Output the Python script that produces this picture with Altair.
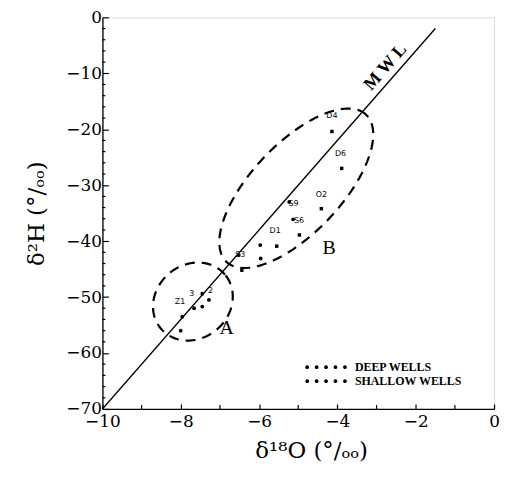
import altair as alt
import numpy as np
import pandas as pd

# ---- data ----
deep_x = [-4.14, -3.89, -4.41, -5.55, -4.97, -6.44]
deep_y = [-20.4, -27.0, -34.2, -40.9, -38.9, -45.2]

shallow_x = [-5.23, -5.13, -5.97, -5.96, -6.52, -7.45, -7.28, -7.45, -7.66, -7.96, -8.00]
shallow_y = [-33.0, -36.1, -40.7, -43.1, -42.5, -49.4, -50.5, -51.7, -52.0, -53.5, -56.0]

label_text = ["D4", "D6", "O2", "S9", "S6", "D1", "S3", "2", "3", "Z1"]
label_x = [-4.14, -3.92, -4.41, -5.12, -4.98, -5.59, -6.48, -7.24, -7.72, -8.02]
label_y = [-17.6, -24.5, -31.7, -33.3, -36.4, -38.2, -42.5, -48.9, -49.4, -50.9]

mwl_x = [-10.0, -1.5]
mwl_y = [-70.0, -2.0]

group_text = ["A", "B"]
group_x = [-6.83, -4.21]
group_y = [-55.6, -41.2]

# ellipses: center (data units), semi-axes (fraction of plot side), angle (deg)
ell_name = ["A", "B"]
ell_cx = [-7.69, -5.05]
ell_cy = [-50.8, -30.55]
ell_a = [0.107, 0.259]
ell_b = [0.094, 0.114]
ell_ang = [40.0, 46.5]

x_major = [-10, -8, -6, -4, -2, 0]
x_minor = [-9, -7, -5, -3, -1]
y_major = [-70, -60, -50, -40, -30, -20, -10, 0]
y_minor = [v for v in range(-68, 0, 2) if v % 10 != 0]

# ---- build tables ----
deep = pd.DataFrame({"x": deep_x, "y": deep_y, "type": "DEEP WELLS"})
shallow = pd.DataFrame({"x": shallow_x, "y": shallow_y, "type": "SHALLOW WELLS"})
labels = pd.DataFrame({"t": label_text, "x": label_x, "y": label_y})
mwl = pd.DataFrame({"x": mwl_x, "y": mwl_y})
groups = pd.DataFrame({"t": group_text, "x": group_x, "y": group_y})
xmin_df = pd.DataFrame({"x": x_minor})
ymin_df = pd.DataFrame({"y": y_minor})

rows = []
tt = np.linspace(0, 2 * np.pi, 121)
for n, cx, cy, a, b, ang in zip(ell_name, ell_cx, ell_cy, ell_a, ell_b, ell_ang):
    th = np.radians(ang)
    u = a * np.cos(tt) * np.cos(th) - b * np.sin(tt) * np.sin(th)
    v = a * np.cos(tt) * np.sin(th) + b * np.sin(tt) * np.cos(th)
    for i, (uu, vv) in enumerate(zip(u, v)):
        rows.append({"e": n, "i": i, "x": cx + uu * 10, "y": cy + vv * 70})
ell = pd.DataFrame(rows)

SERIF = "DejaVu Serif"
LSERIF = "Liberation Serif"

xscale = alt.Scale(domain=[-10, 0], nice=False, zero=False)
yscale = alt.Scale(domain=[-70, 0], nice=False, zero=False)

xaxis = alt.Axis(
    values=x_major,
    title="δ¹⁸O  (°/ₒₒ)",
    grid=False,
    tickSize={"expr": "-5"},
    labelPadding=10,
    labelFont=SERIF, labelFontSize=17, labelColor="black",
    titleFont=SERIF, titleFontSize=23, titleFontWeight="normal", titleColor="black",
    titlePadding=10, titleX=210,
    domainColor="black", tickColor="black", domainWidth=1.3, tickWidth=1.2,
    labelOverlap=False, labelFlush=False,
)
yaxis = alt.Axis(
    values=y_major,
    title="δ²H  (°/ₒₒ)",
    grid=False,
    tickSize={"expr": "-6"},
    labelPadding=7,
    labelFont=SERIF, labelFontSize=17, labelColor="black",
    titleFont=SERIF, titleFontSize=23, titleFontWeight="normal", titleColor="black",
    titleX=-54, titleY=197,
    domainColor="black", tickColor="black", domainWidth=1.3, tickWidth=1.2,
    labelOverlap=False, labelFlush=False,
)

# legend symbol: a row of five dots (path drawn beyond the unit box on purpose)
five_dots = " ".join(
    f"M {cx - 0.38},0 a 0.38,0.38 0 1,0 0.76,0 a 0.38,0.38 0 1,0 -0.76,0 Z"
    for cx in [-3.8, -1.9, 0.0, 1.9, 3.8]
)

color_enc = alt.Color(
    "type:N",
    scale=alt.Scale(domain=["DEEP WELLS", "SHALLOW WELLS"], range=["black", "black"]),
    legend=alt.Legend(
        title=None, orient="none", legendX=219, legendY=346,
        symbolType=five_dots, symbolSize=100, symbolStrokeWidth=0,
        symbolFillColor="black",
        labelFont=LSERIF, labelFontSize=12, labelFontWeight="bold", labelColor="black",
        rowPadding=2, labelOffset=23,
    ),
)

line = alt.Chart(mwl).mark_line(color="black", strokeWidth=1.3).encode(
    x=alt.X("x:Q", scale=xscale, axis=xaxis),
    y=alt.Y("y:Q", scale=yscale, axis=yaxis),
)

xminor = alt.Chart(xmin_df).mark_rule(color="black", strokeWidth=1.2).encode(
    x="x:Q", y=alt.value(394), y2=alt.value(390)
)
yminor = alt.Chart(ymin_df).mark_rule(color="black", strokeWidth=1.2).encode(
    y="y:Q", x=alt.value(0), x2=alt.value(3)
)

ellipses = alt.Chart(ell).mark_line(
    color="black", strokeWidth=2.2, strokeDash=[10, 7]
).encode(
    x="x:Q", y="y:Q", detail="e:N", order="i:Q"
)

deep_pts = alt.Chart(deep).mark_square(size=12, opacity=1).encode(
    x="x:Q", y="y:Q", color=color_enc
)
shallow_pts = alt.Chart(shallow).mark_circle(size=15, opacity=1).encode(
    x="x:Q", y="y:Q", color=color_enc
)

ptlabels = alt.Chart(labels).mark_text(
    font="DejaVu Sans", fontSize=8, color="black", align="center", baseline="middle"
).encode(x="x:Q", y="y:Q", text="t:N")

grouplabels = alt.Chart(groups).mark_text(
    font=LSERIF, fontSize=20, color="black", align="center", baseline="middle"
).encode(x="x:Q", y="y:Q", text="t:N")

mwl_label = alt.Chart(pd.DataFrame({"t": ["M    W    L"], "x": [-2.77], "y": [-8.9]})).mark_text(
    font=LSERIF, fontSize=18, fontWeight="bold", color="black", angle=311,
    align="center", baseline="middle"
).encode(x="x:Q", y="y:Q", text="t:N")

chart = alt.layer(
    line, xminor, yminor, ellipses, deep_pts, shallow_pts, ptlabels, grouplabels, mwl_label
).properties(
    width=394, height=394,
    autosize=alt.AutoSizeParams(type="none"),
    padding={"left": 95, "top": 8, "right": 8, "bottom": 62},
).configure_view(stroke=None).configure(background="white")

chart.save("out.html", embed_options={"renderer": "svg", "actions": False})
